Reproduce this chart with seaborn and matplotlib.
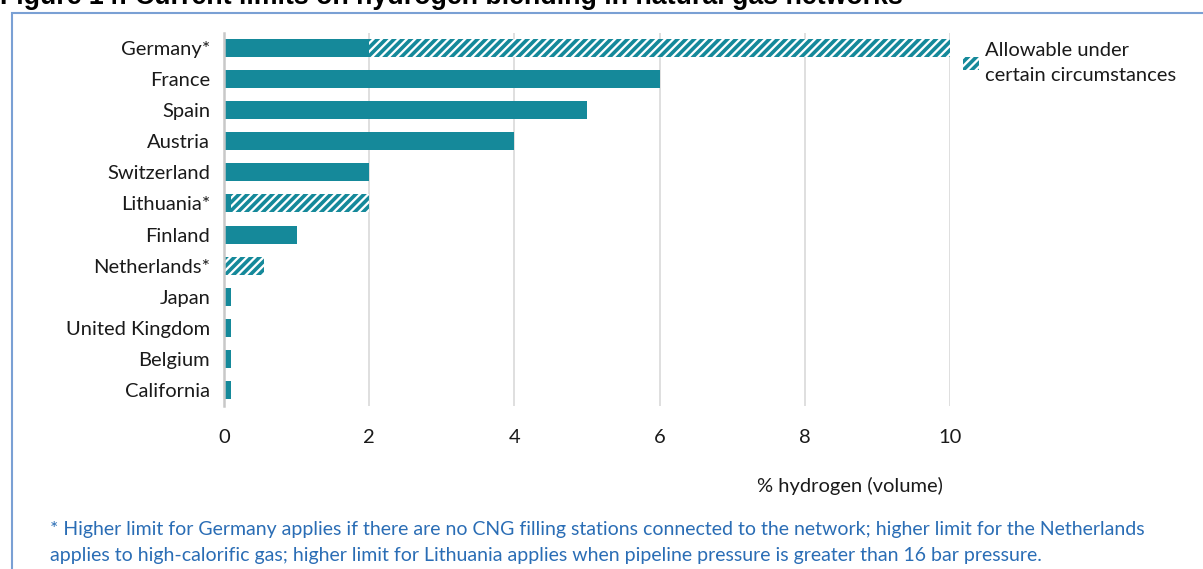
import matplotlib
matplotlib.use("Agg")
import matplotlib.pyplot as plt
import matplotlib.patches as mpatches
import pandas as pd
import seaborn as sns

sns.set_theme(style="white")
plt.rcParams["font.family"] = ["Lato", "DejaVu Sans"]
plt.rcParams["hatch.linewidth"] = 2.6

# ------------------------------------------------
# DATA
# ------------------------------------------------
countries = ["Germany*", "France", "Spain", "Austria", "Switzerland", "Lithuania*",
             "Finland", "Netherlands*", "Japan", "United Kingdom", "Belgium", "California"]
base_limit = [2, 6, 5, 4, 2, 0.1, 1, 0, 0.1, 0.1, 0.1, 0.1]
higher_limit = [10, 6, 5, 4, 2, 2, 1, 0.55, 0.1, 0.1, 0.1, 0.1]
x_ticks = [0, 2, 4, 6, 8, 10]

df = pd.DataFrame({"country": countries, "base": base_limit, "higher": higher_limit})

teal = "#15899a"
blue_txt = "#2a6db5"
dark = "#1a1a1a"

# ------------------------------------------------
# PLOT
# ------------------------------------------------
fig = plt.figure(figsize=(12.03, 5.69), dpi=100)
ax = fig.add_axes([224 / 1203, 1 - 405.5 / 569, 726 / 1203, 373 / 569])

# hatched = higher limit, solid on top = normal limit
sns.barplot(data=df, y="country", x="higher", orient="h", ax=ax, width=0.58,
            color="white", edgecolor=teal, linewidth=0, hatch="////")
sns.barplot(data=df, y="country", x="base", orient="h", ax=ax, width=0.58,
            color=teal, linewidth=0, saturation=1)

ax.set_xlim(0, 10)
ax.set_ylim(11.5, -0.5)
ax.set_xticks(x_ticks)
ax.set_xlabel("")
ax.set_ylabel("")
ax.grid(axis="x", color="#d9d9d9", linewidth=1.2)
ax.set_axisbelow(True)
for s in ["top", "right", "bottom"]:
    ax.spines[s].set_visible(False)
ax.spines["left"].set_color("#c8c8c8")
ax.spines["left"].set_linewidth(1.8)
ax.tick_params(axis="x", length=0, pad=17, labelsize=14.5, labelcolor=dark)
ax.tick_params(axis="y", length=0, pad=10, labelsize=14.5, labelcolor=dark)

# legend
handle = mpatches.Patch(facecolor="white", edgecolor=teal, linewidth=0, hatch="////",
                        label="Allowable under\ncertain circumstances")
leg = fig.legend(handles=[handle], loc="upper left", bbox_to_anchor=(955 / 1203, 1 - 34 / 569),
                 frameon=False, fontsize=14.5, handlelength=0.8, handleheight=0.6,
                 handletextpad=0.3, borderaxespad=0, labelcolor=dark)
for t in leg.get_texts():
    t.set_linespacing(1.6)

fig.text(850 / 1203, 1 - 486 / 569, "% hydrogen (volume)", ha="center", va="center",
         fontsize=14.5, color=dark)

fig.text(50 / 1203, 1 - 530 / 569,
         "* Higher limit for Germany applies if there are no CNG filling stations connected "
         "to the network; higher limit for the Netherlands",
         ha="left", va="center", fontsize=14.0, color=blue_txt)
fig.text(50 / 1203, 1 - 556 / 569,
         "applies to high-calorific gas; higher limit for Lithuania applies when pipeline "
         "pressure is greater than 16 bar pressure.",
         ha="left", va="center", fontsize=14.0, color=blue_txt)

# clipped caption and frame
fig.text(0, 1 - 4.5 / 569,
         "Figure 14: Current limits on hydrogen blending in natural gas networks",
         ha="left", va="baseline", fontsize=19.3, fontweight="bold",
         family=["Liberation Sans", "DejaVu Sans"], color="black")
fig.patches.append(mpatches.Rectangle((12 / 1203, -0.2), 1.2, 1 - 13 / 569 + 0.2,
                                      transform=fig.transFigure, fill=False,
                                      edgecolor="#7aa0d4", linewidth=1.5))

fig.savefig("out.png", dpi=100)
